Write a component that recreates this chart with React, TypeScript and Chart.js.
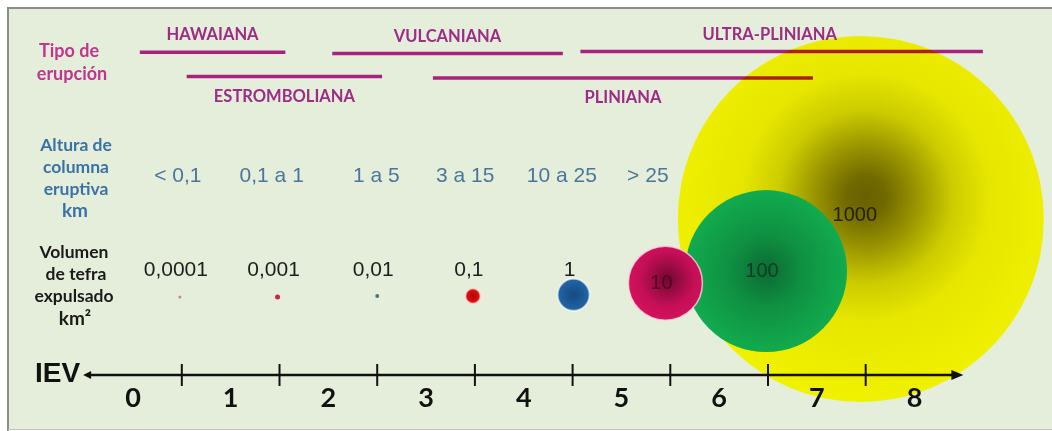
import React, { useEffect, useRef } from 'react';
import { Chart, registerables } from 'chart.js';

Chart.register(...registerables);

// ---------- DATA ----------
const IEV_LEVELS = [0, 1, 2, 3, 4, 5, 6, 7, 8];
const IEV_BOUNDARIES = [0.5, 1.5, 2.5, 3.5, 4.5, 5.5, 6.5, 7.5];

const ERUPTION_TYPES = ['HAWAIANA', 'ESTROMBOLIANA', 'VULCANIANA', 'PLINIANA', 'ULTRA-PLINIANA'];
const ERUPTION_START = [0.07, 0.55, 2.04, 3.07, 4.58];
const ERUPTION_END = [1.56, 2.55, 4.4, 6.96, 8.7];
const ERUPTION_ROW = [87.9, 82.25, 87.6, 81.9, 88.05];

const COLUMN_HEIGHTS = ['< 0,1', '0,1 a 1', '1 a 5', '3 a 15', '10 a 25', '> 25'];
const COLUMN_HEIGHT_IEV = [0.46, 1.42, 2.49, 3.4, 4.39, 5.27];

const TEPHRA_LABELS = ['0,0001', '0,001', '0,01', '0,1', '1', '10', '100', '1000'];
const TEPHRA_VOLUME = [0.0001, 0.001, 0.01, 0.1, 1, 10, 100, 1000];
const BUBBLE_IEV = [0.48, 1.48, 2.5, 3.48, 4.51, 5.45, 6.48, 7.45];
const BUBBLE_ROW = [31.1, 31.1, 31.3, 31.3, 31.6, 34.3, 37.1, 49.2];
const BUBBLE_RADIUS = [1.5, 2.5, 2, 7.5, 16, 37, 81, 183];

// ---------- STYLES ----------
const PANEL_BG = '#e5eedb';
const MAGENTA_TEXT = '#c0358f';
const TYPE_TEXT = '#9c2c86';
const LINE_COLOR = '#ba2494';
const BLUE_TEXT = '#3b72a6';
const HEIGHT_TEXT = '#4b769c';

type Stop = [number, string];
interface BubbleStyle {
  color: string;
  stops?: Stop[];
  dx?: number;
  dy?: number;
  border?: string;
  borderWidth?: number;
  labelColor: string;
}
const BUBBLE_STYLES: BubbleStyle[] = [
  { color: '#e07a8a', labelColor: '#1e1e1e', borderWidth: 0 },
  { color: '#d02244', labelColor: '#1e1e1e', borderWidth: 0 },
  { color: '#4d7382', labelColor: '#1e1e1e', borderWidth: 0 },
  { color: '#d01414', stops: [[0, '#b80000'], [0.7, '#d41010'], [1, '#e02a2a']], labelColor: '#1e1e1e', border: 'rgba(255,215,215,0.8)', borderWidth: 1.5 },
  { color: '#1d5c9c', stops: [[0, '#174a80'], [0.6, '#1c5a98'], [1, '#2466a6']], labelColor: '#1e1e1e', border: 'rgba(255,255,255,0.6)', borderWidth: 2 },
  { color: '#d00e5a', stops: [[0, '#6e0832'], [0.3, '#980b43'], [0.65, '#c40f56'], [1, '#d5115e']], dx: 2, dy: -4, labelColor: '#50081f', border: 'rgba(255,210,225,0.8)', borderWidth: 1.5 },
  { color: '#12a84c', stops: [[0, '#0c6a33'], [0.45, '#0f9042'], [1, '#12ab4e']], labelColor: '#0f3d24', borderWidth: 0 },
  { color: '#f0f000', stops: [[0, '#686000'], [0.1, '#716a00'], [0.25, '#9a9500'], [0.42, '#cccb00'], [0.6, '#e6e600'], [1, '#f1f200']], dx: 5, dy: -22, labelColor: '#262200', borderWidth: 0 },
];

// ---------- HELPERS ----------
function bubbleStyle(ctx: any): BubbleStyle {
  return BUBBLE_STYLES[ctx.raw ? ctx.raw.k : 0];
}

function bubbleFill(ctx: any) {
  const st = bubbleStyle(ctx);
  if (!st.stops) return st.color;
  const chart = ctx.chart;
  const xs = chart.scales && chart.scales.x;
  const ys = chart.scales && chart.scales.y;
  if (!xs || !ys || !chart.chartArea) return st.color;
  const cx = xs.getPixelForValue(ctx.raw.x) + (st.dx || 0);
  const cy = ys.getPixelForValue(ctx.raw.y) + (st.dy || 0);
  const rr = ctx.raw.r + Math.hypot(st.dx || 0, st.dy || 0);
  const g = chart.ctx.createRadialGradient(cx, cy, 0, cx, cy, rr);
  st.stops.forEach(([o, c]) => g.addColorStop(o, c));
  return g;
}

const infographicPlugin = {
  id: 'infographic',
  beforeDraw(chart: any) {
    const c = chart.ctx;
    const W = chart.width, H = chart.height;
    c.save();
    c.fillStyle = '#ffffff';
    c.fillRect(0, 0, W, H);
    c.fillStyle = PANEL_BG;
    c.fillRect(8, 8, W - 8, H - 9);
    c.strokeStyle = '#8c8c8c';
    c.lineWidth = 2;
    c.beginPath();
    c.moveTo(W, 8);
    c.lineTo(8, 8);
    c.lineTo(8, H);
    c.stroke();
    c.strokeStyle = '#c4c4c4';
    c.lineWidth = 1;
    c.beginPath();
    c.moveTo(8, H - 1.5);
    c.lineTo(W, H - 1.5);
    c.stroke();
    c.restore();
  },
  beforeDatasetDraw(chart: any, args: any) {
    const ds = chart.data.datasets[args.index];
    if (ds.type === 'line') {
      chart.ctx.save();
      chart.ctx.globalCompositeOperation = 'multiply';
    }
  },
  afterDatasetDraw(chart: any, args: any) {
    const ds = chart.data.datasets[args.index];
    if (ds.type === 'line') chart.ctx.restore();
  },
  afterDraw(chart: any) {
    const c = chart.ctx;
    const xs = chart.scales.x;
    const ys = chart.scales.y;
    const X = (v: number) => xs.getPixelForValue(v);
    const Y = (v: number) => ys.getPixelForValue(v);
    c.save();
    c.textAlign = 'center';
    c.textBaseline = 'middle';

    // Left column titles
    c.fillStyle = MAGENTA_TEXT;
    c.font = 'bold 18px Lato';
    c.fillText('Tipo de', 69, 51);
    c.fillText('erupción', 72, 74);

    c.fillStyle = BLUE_TEXT;
    c.font = 'bold 17.5px Lato';
    c.fillText('Altura de', 76, 145);
    c.fillText('columna', 76, 167);
    c.fillText('eruptiva', 76, 189);
    c.font = 'bold 19px Lato';
    c.fillText('km', 75, 211);

    c.fillStyle = '#1a1a1a';
    c.font = 'bold 17.5px Lato';
    c.fillText('Volumen', 74, 252);
    c.fillText('de tefra', 76, 274);
    c.fillText('expulsado', 74, 296);
    c.font = 'bold 19px Lato';
    c.fillText('km²', 75, 319);

    // Eruption type labels
    c.fillStyle = TYPE_TEXT;
    c.font = 'bold 16.5px Lato';
    ERUPTION_TYPES.forEach((name, i) => {
      const mid = X((ERUPTION_START[i] + ERUPTION_END[i]) / 2);
      const ly = Y(ERUPTION_ROW[i]);
      const top = ERUPTION_ROW[i] > 85;
      const lx = name === 'ULTRA-PLINIANA' ? mid - 12 : mid;
      c.fillText(name, lx, top ? ly - 17 : ly + 20);
    });

    // Column heights
    c.fillStyle = HEIGHT_TEXT;
    c.font = '21px "Liberation Sans"';
    COLUMN_HEIGHTS.forEach((t, i) => {
      c.fillText(t, X(COLUMN_HEIGHT_IEV[i]), 176);
    });

    // Tephra volumes
    TEPHRA_LABELS.forEach((t, i) => {
      const st = BUBBLE_STYLES[i];
      c.fillStyle = st.labelColor;
      const bx = X(BUBBLE_IEV[i]) - 4;
      if (BUBBLE_RADIUS[i] < 20) {
        c.font = '21px "Liberation Sans"';
        c.fillText(t, bx, 270);
      } else {
        const by = Y(BUBBLE_ROW[i]);
        c.font = '20px "Liberation Sans"';
        c.fillText(t, bx - (i === 7 ? 2 : 0), by - (i === 7 ? 3 : 0));
      }
    });

    // IEV axis
    const axisY = Y(13);
    const x0 = X(-0.51);
    const x1 = X(8.5);
    c.strokeStyle = '#111';
    c.fillStyle = '#111';
    c.lineWidth = 2.5;
    c.beginPath();
    c.moveTo(x0 + 5, axisY);
    c.lineTo(x1 - 8, axisY);
    c.stroke();
    c.beginPath();
    c.moveTo(x0, axisY);
    c.lineTo(x0 + 8, axisY - 4);
    c.lineTo(x0 + 8, axisY + 4);
    c.closePath();
    c.fill();
    c.beginPath();
    c.moveTo(x1, axisY);
    c.lineTo(x1 - 12, axisY - 5);
    c.lineTo(x1 - 12, axisY + 5);
    c.closePath();
    c.fill();
    c.lineWidth = 2;
    IEV_BOUNDARIES.forEach((b) => {
      const tx = X(b);
      c.beginPath();
      c.moveTo(tx, axisY - 11);
      c.lineTo(tx, axisY + 11);
      c.stroke();
    });
    c.font = 'bold 27px Lato';
    IEV_LEVELS.forEach((v) => {
      c.fillText(String(v), X(v), axisY + 23);
    });
    c.textAlign = 'left';
    c.font = 'bold 28px "Liberation Sans"';
    c.fillText('IEV', 35, axisY - 1);
    c.restore();
  },
};

export default function App() {
  const canvasRef = useRef<HTMLCanvasElement | null>(null);

  useEffect(() => {
    if (!canvasRef.current) return;
    const points = TEPHRA_VOLUME.map((vol, k) => ({
      x: BUBBLE_IEV[k],
      y: BUBBLE_ROW[k],
      r: BUBBLE_RADIUS[k],
      k,
      vol,
    })).sort((a, b) => b.r - a.r);

    const lineSets = ERUPTION_TYPES.map((name, i) => ({
      type: 'line' as const,
      label: name,
      data: [
        { x: ERUPTION_START[i], y: ERUPTION_ROW[i] },
        { x: ERUPTION_END[i], y: ERUPTION_ROW[i] },
      ],
      borderColor: LINE_COLOR,
      borderWidth: 3.5,
      borderCapStyle: 'butt' as const,
      pointRadius: 0,
      pointHoverRadius: 0,
      tension: 0,
      fill: false,
      order: 1,
    }));

    const chart = new Chart(canvasRef.current, {
      type: 'bubble',
      data: {
        datasets: [
          {
            type: 'bubble',
            label: 'Volumen de tefra',
            data: points as any,
            backgroundColor: bubbleFill as any,
            borderColor: ((ctx: any) => bubbleStyle(ctx).border || 'rgba(0,0,0,0)') as any,
            borderWidth: ((ctx: any) => bubbleStyle(ctx).borderWidth || 0) as any,
            hoverRadius: 0,
            order: 2,
            clip: false,
          } as any,
          ...(lineSets as any[]),
        ],
      },
      options: {
        animation: false,
        responsive: false,
        devicePixelRatio: 1,
        layout: { padding: 0, autoPadding: false },
        events: [],
        scales: {
          x: { type: 'linear', min: -1.361, max: 9.407, display: false },
          y: { type: 'linear', min: 0, max: 100, display: false },
        },
        plugins: {
          legend: { display: false },
          tooltip: { enabled: false },
          title: { display: false },
        },
      },
      plugins: [infographicPlugin],
    });
    return () => chart.destroy();
  }, []);

  return (
    <div style={{ position: 'absolute', left: 0, top: 0, width: 1052, height: 431 }}>
      <canvas ref={canvasRef} width={1052} height={431} style={{ display: 'block' }} />
    </div>
  );
}
